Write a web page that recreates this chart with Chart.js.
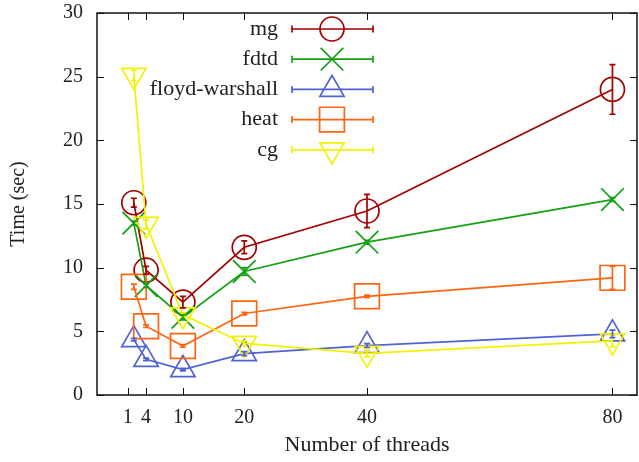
<!DOCTYPE html>
<html>
<head>
<meta charset="utf-8">
<script src="https://cdn.jsdelivr.net/npm/chart.js@4/dist/chart.umd.min.js"></script>
<style>
  html, body { margin: 0; padding: 0; background: #fff; }
  #wrap { width: 639px; height: 462px; }
</style>
</head>
<body>
<div id="wrap"><canvas id="chart" width="639" height="462"></canvas></div>
<script>
"use strict";

// data
const threads = [2, 4, 10, 20, 40, 80];
const xTicks = [1, 4, 10, 20, 40, 80];
const yTicks = [0, 5, 10, 15, 20, 25, 30];

const seriesNames = ["mg", "fdtd", "floyd-warshall", "heat", "cg"];
const mg = [15.1, 9.8, 7.3, 11.6, 14.45, 24.0];
const mgErr = [0.35, 0.3, 0.45, 0.5, 1.3, 1.95];
const fdtd = [13.5, 8.6, 6.1, 9.7, 12.0, 15.35];
const fdtdErr = [0.15, 0.15, 0.2, 0.3, 0.15, 0.15];
const floyd = [4.35, 2.8, 2.0, 3.25, 3.88, 4.8];
const floydErr = [0.1, 0.1, 0.1, 0.15, 0.15, 0.3];
const heat = [8.5, 5.4, 3.85, 6.4, 7.75, 9.2];
const heatErr = [0.2, 0.1, 0.1, 0.1, 0.1, 0.9];
const cg = [25.1, 13.4, 6.3, 4.05, 3.27, 4.25];
const cgErr = [0.4, 0.35, 0.15, 0.2, 0.25, 0.45];

const FONT = "'Liberation Serif', 'DejaVu Serif', serif";
const TEXT = "#222";

// dataset builder
let makeSet = (label, values, errs, color, style, radius, rotation, order) => {
  return {
    label: label,
    data: values.map((v, i) => ({ x: threads[i], y: v })),
    errors: errs,
    borderColor: color,
    backgroundColor: color,
    borderWidth: 1.7,
    pointStyle: style,
    pointRadius: radius,
    pointHoverRadius: radius,
    pointRotation: rotation,
    pointBorderWidth: 1.7,
    pointBackgroundColor: "rgba(0,0,0,0)",
    pointBorderColor: color,
    fill: false,
    tension: 0,
    clip: false,
    order: order
  };
};

let datasets = [
  makeSet(seriesNames[0], mg, mgErr, "#a30000", "circle", 12, 0, 5),
  makeSet(seriesNames[1], fdtd, fdtdErr, "#14a014", "crossRot", 16, 0, 4),
  makeSet(seriesNames[2], floyd, floydErr, "#5062d4", "triangle", 14, 0, 3),
  makeSet(seriesNames[3], heat, heatErr, "#ff6410", "rect", 17.5, 0, 2),
  makeSet(seriesNames[4], cg, cgErr, "#f2f200", "triangle", 14, 180, 1)
];

// error bars with caps
const errorBars = {
  id: "errorBars",
  afterDatasetsDraw(chart) {
    let ctx = chart.ctx;
    let xs = chart.scales.x, ys = chart.scales.y;
    let sets = chart.data.datasets.map((d, i) => i).reverse();
    ctx.save();
    for (let i of sets) {
      let ds = chart.data.datasets[i];
      ctx.strokeStyle = ds.borderColor;
      ctx.lineWidth = 1.7;
      ds.data.forEach((p, j) => {
        let e = ds.errors[j];
        let x = xs.getPixelForValue(p.x);
        let y1 = ys.getPixelForValue(p.y - e);
        let y2 = ys.getPixelForValue(p.y + e);
        ctx.beginPath();
        ctx.moveTo(x, y1); ctx.lineTo(x, y2);
        ctx.moveTo(x - 3, y1); ctx.lineTo(x + 3, y1);
        ctx.moveTo(x - 3, y2); ctx.lineTo(x + 3, y2);
        ctx.stroke();
      });
    }
    ctx.restore();
  }
};

// gnuplot style frame with inward ticks on all sides
const frame = {
  id: "frame",
  afterDraw(chart) {
    let ctx = chart.ctx;
    let a = chart.chartArea;
    let xs = chart.scales.x, ys = chart.scales.y;
    ctx.save();
    ctx.strokeStyle = "#111";
    ctx.lineWidth = 1.5;
    ctx.strokeRect(a.left, a.top, a.right - a.left, a.bottom - a.top);
    ctx.lineWidth = 1;
    ctx.beginPath();
    for (let v of xTicks) {
      let x = Math.round(xs.getPixelForValue(v)) + 0.5;
      ctx.moveTo(x, a.bottom); ctx.lineTo(x, a.bottom - 7);
      ctx.moveTo(x, a.top); ctx.lineTo(x, a.top + 7);
    }
    for (let v of yTicks) {
      let y = Math.round(ys.getPixelForValue(v)) + 0.5;
      ctx.moveTo(a.left, y); ctx.lineTo(a.left + 7, y);
      ctx.moveTo(a.right, y); ctx.lineTo(a.right - 7, y);
    }
    ctx.stroke();
    ctx.restore();
  }
};

// legend: name, line with caps, marker
const keyBox = {
  id: "keyBox",
  afterDraw(chart) {
    let ctx = chart.ctx;
    let textRight = 278, lineL = 292, lineR = 373, mid = 332;
    ctx.save();
    ctx.font = "22px " + FONT;
    ctx.textAlign = "right";
    ctx.textBaseline = "middle";
    chart.data.datasets.forEach((ds, i) => {
      let y = 29 + i * 30.2;
      ctx.fillStyle = TEXT;
      ctx.fillText(ds.label, textRight, y);
      ctx.strokeStyle = ds.borderColor;
      ctx.lineWidth = 1.7;
      ctx.beginPath();
      ctx.moveTo(lineL, y); ctx.lineTo(lineR, y);
      ctx.moveTo(lineL, y - 3.5); ctx.lineTo(lineL, y + 3.5);
      ctx.moveTo(lineR, y - 3.5); ctx.lineTo(lineR, y + 3.5);
      ctx.stroke();
      ctx.fillStyle = "rgba(0,0,0,0)";
      Chart.helpers.drawPoint(ctx, {
        pointStyle: ds.pointStyle,
        radius: ds.pointRadius,
        rotation: ds.pointRotation,
        borderWidth: 1.7
      }, mid, y);
    });
    ctx.restore();
  }
};

// drop the label overflow padding so the plot box sits where the layout says
let noPad = scale => {
  scale.paddingLeft = 0;
  scale.paddingRight = 0;
  scale.paddingTop = 0;
  scale.paddingBottom = 0;
};

let chart = new Chart(document.querySelector("#chart"), {
  type: "line",
  data: { datasets: datasets },
  options: {
    responsive: false,
    animation: false,
    layout: { autoPadding: false, padding: { top: 13, right: 2, left: 0, bottom: 0 } },
    plugins: {
      legend: { display: false },
      tooltip: { enabled: false }
    },
    scales: {
      x: {
        type: "linear",
        min: -4,
        max: 84,
        afterBuildTicks: scale => { scale.ticks = xTicks.map(v => ({ value: v })); },
        afterFit: scale => { scale.height = 67; noPad(scale); },
        grid: { display: false, drawTicks: false },
        border: { display: false },
        ticks: { color: TEXT, font: { family: FONT, size: 20 }, padding: 11, maxRotation: 0, autoSkip: false },
        title: { display: true, text: "Number of threads", color: TEXT, font: { family: FONT, size: 22 }, padding: { top: 4 } }
      },
      y: {
        min: 0,
        max: 30,
        afterBuildTicks: scale => { scale.ticks = yTicks.map(v => ({ value: v })); },
        afterFit: scale => { scale.width = 97; noPad(scale); },
        grid: { display: false, drawTicks: false },
        border: { display: false },
        ticks: { color: TEXT, font: { family: FONT, size: 20 }, padding: 14 },
        title: { display: true, text: "Time (sec)", color: TEXT, font: { family: FONT, size: 20 }, padding: { top: 7, bottom: 4 } }
      }
    }
  },
  plugins: [errorBars, frame, keyBox]
});
</script>
</body>
</html>
